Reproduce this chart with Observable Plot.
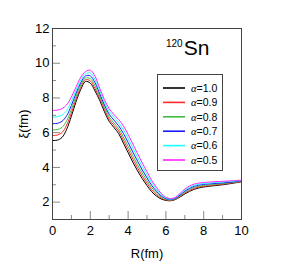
<!DOCTYPE html>
<html><head><meta charset="utf-8">
<script src="https://cdn.jsdelivr.net/npm/d3@7"></script>
<script src="https://cdn.jsdelivr.net/npm/@observablehq/plot@0.6"></script>
<style>
body{margin:0;background:#fff;font-family:"Liberation Sans",Arial,sans-serif;}
#wrap{position:relative;width:287px;height:271px;}
#title{position:absolute;left:166px;top:37px;font-size:21px;color:#000;line-height:1;}
#title sup{font-size:10px;vertical-align:top;position:relative;top:2px;margin-right:1px;}
#legend{position:absolute;left:157px;top:74px;width:64px;height:95px;border:1px solid #444;background:#fff;}
</style></head><body><div id="wrap"></div>
<script>
const R = [0,0.25,0.5,0.75,1,1.25,1.5,1.75,2,2.25,2.5,2.75,3,3.25,3.5,3.75,4,4.25,4.5,4.75,5,5.25,5.5,5.75,6,6.25,6.5,6.75,7,7.25,7.5,7.75,8,8.5,9,9.5,10];
const xi10 = [5.55,5.57,5.72,6.20,6.95,7.80,8.50,8.95,8.85,8.40,7.85,7.20,6.65,6.30,5.95,5.40,4.85,4.30,3.80,3.35,2.95,2.60,2.35,2.18,2.10,2.08,2.15,2.30,2.47,2.62,2.74,2.82,2.87,2.94,3.00,3.08,3.17];
const xi09 = [5.84,5.86,6.00,6.44,7.14,7.94,8.62,9.05,8.98,8.54,7.97,7.32,6.77,6.43,6.09,5.57,5.03,4.48,3.97,3.50,3.09,2.71,2.44,2.23,2.13,2.10,2.17,2.33,2.52,2.67,2.79,2.87,2.91,2.98,3.03,3.11,3.19];
const xi08 = [6.16,6.18,6.30,6.69,7.34,8.10,8.75,9.15,9.11,8.70,8.10,7.45,6.91,6.56,6.23,5.75,5.22,4.67,4.15,3.67,3.23,2.83,2.53,2.29,2.16,2.12,2.20,2.37,2.57,2.73,2.85,2.92,2.96,3.02,3.07,3.13,3.21];
const xi07 = [6.52,6.54,6.65,6.98,7.57,8.28,8.89,9.27,9.27,8.88,8.24,7.59,7.06,6.72,6.40,5.96,5.44,4.89,4.36,3.85,3.40,2.96,2.63,2.36,2.20,2.15,2.22,2.41,2.63,2.79,2.91,2.98,3.02,3.07,3.11,3.16,3.23];
const xi06 = [6.90,6.92,7.01,7.29,7.81,8.46,9.05,9.39,9.44,9.06,8.40,7.75,7.22,6.89,6.57,6.18,5.67,5.12,4.58,4.05,3.57,3.11,2.74,2.43,2.24,2.17,2.25,2.46,2.69,2.86,2.97,3.04,3.07,3.12,3.16,3.20,3.25];
const xi05 = [7.28,7.30,7.38,7.60,8.05,8.65,9.20,9.52,9.60,9.25,8.55,7.90,7.38,7.05,6.75,6.40,5.90,5.35,4.80,4.25,3.75,3.25,2.85,2.50,2.28,2.20,2.28,2.50,2.75,2.93,3.04,3.10,3.13,3.17,3.20,3.23,3.27];
const alphas = ["1.0","0.9","0.8","0.7","0.6","0.5"];
const colors = ["#000000","#ff2a2a","#44bb44","#1a1aff","#22ffff","#ff22ff"];
const xMajor = [0,2,4,6,8,10];
const xMinor = [1,3,5,7,9];
const yMajor = [2,4,6,8,10,12];
const yMinor = [1,3,5,7,9,11];

const series = [xi10, xi09, xi08, xi07, xi06, xi05];
const rows = alphas.flatMap((a, i) => R.map((r, j) => ({R: r, xi: series[i][j], alpha: a})));

const chart = Plot.plot({
  width: 287, height: 271,
  marginLeft: 52, marginRight: 46, marginTop: 28, marginBottom: 52,
  style: {fontFamily: "'Liberation Sans', Arial, sans-serif", fontSize: "13px", color: "#000", background: "#fff"},
  x: {domain: [0, 10]},
  y: {domain: [1, 12]},
  color: {domain: alphas, range: colors},
  marks: [
    Plot.axisX(xMinor, {tickSize: -4, text: null, label: null, stroke: "#888"}),
    Plot.axisX(xMajor, {tickSize: -8, text: null, label: null, stroke: "#888"}),
    Plot.axisX(xMajor, {tickSize: 0, tickPadding: 6, label: "R(fm)", labelAnchor: "center", labelArrow: "none", labelOffset: 38, fill: "#000"}),
    Plot.axisY(yMinor, {tickSize: -4, text: null, label: null, stroke: "#888"}),
    Plot.axisY(yMajor, {tickSize: -8, text: null, label: null, stroke: "#888"}),
    Plot.axisY(yMajor, {tickSize: 0, tickPadding: 3, label: "ξ(fm)", labelAnchor: "center", labelArrow: "none", labelOffset: 34, fill: "#000"}),
    Plot.line(rows, {x: "R", y: "xi", z: "alpha", stroke: "alpha", strokeWidth: 1, curve: "catmull-rom"}),
    Plot.frame({stroke: "#444"})
  ]
});

const wrap = document.getElementById("wrap");
wrap.appendChild(chart);

const title = document.createElement("div");
title.id = "title";
title.innerHTML = "<sup>120</sup>Sn";
wrap.appendChild(title);

const legend = document.createElement("div");
legend.id = "legend";
const ns = "http://www.w3.org/2000/svg";
const lsvg = document.createElementNS(ns, "svg");
lsvg.setAttribute("width", 64); lsvg.setAttribute("height", 95);
alphas.forEach((a, i) => {
  const y = 13 + i * 14.4;
  const ln = document.createElementNS(ns, "line");
  ln.setAttribute("x1", 5); ln.setAttribute("x2", 27);
  ln.setAttribute("y1", y); ln.setAttribute("y2", y);
  ln.setAttribute("stroke", colors[i]); ln.setAttribute("stroke-width", 1.6);
  lsvg.appendChild(ln);
  const t = document.createElementNS(ns, "text");
  t.setAttribute("x", 33); t.setAttribute("y", y + 3.8);
  t.setAttribute("font-size", "10.5px");
  t.setAttribute("font-family", "'Liberation Sans', Arial, sans-serif");
  t.innerHTML = '<tspan font-style="italic" font-family="\'Liberation Serif\', serif">α</tspan>=' + a;
  lsvg.appendChild(t);
});
legend.appendChild(lsvg);
wrap.appendChild(legend);
</script>
</body></html>
